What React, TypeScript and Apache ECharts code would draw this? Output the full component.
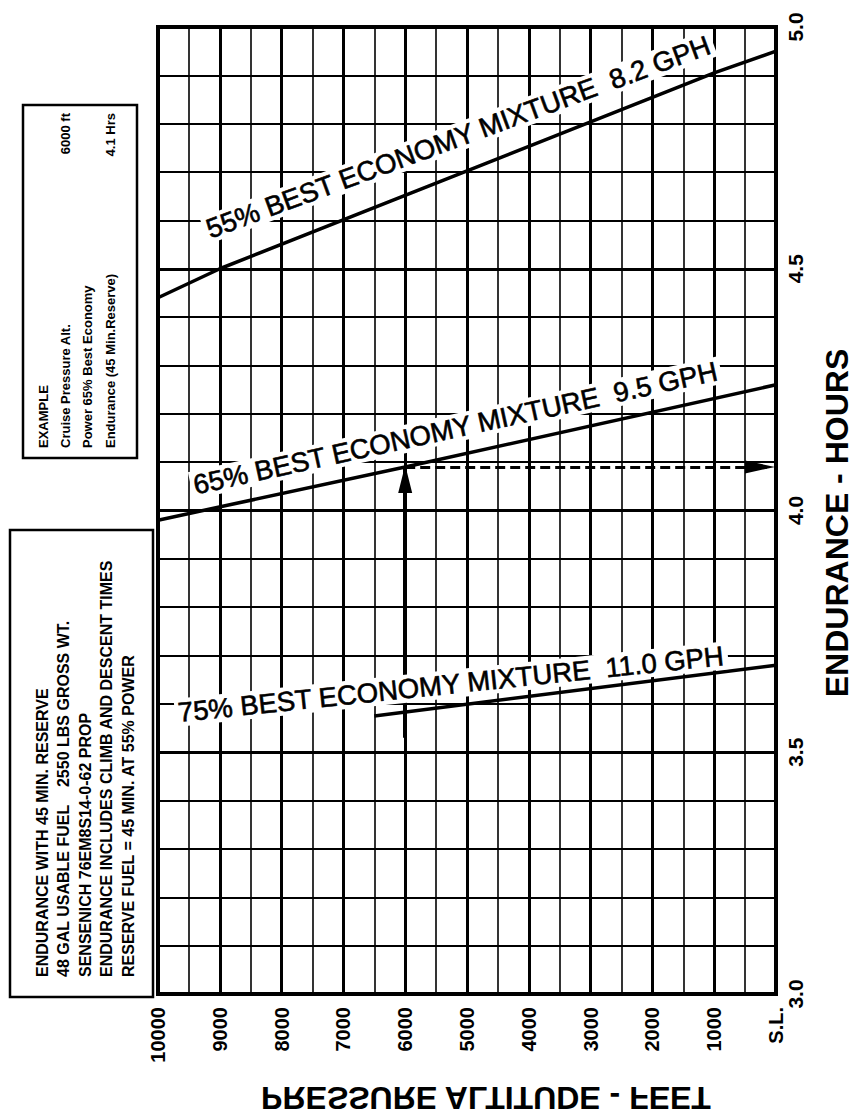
import React, { useEffect, useRef } from "react";
import * as echarts from "echarts";

// ---- data ----
const altitudeMin = 0;
const altitudeMax = 10000;
const enduranceMin = 3.0;
const enduranceMax = 5.0;

const alt55 = [10000, 9000, 1000, 0];
const hrs55 = [4.44, 4.5, 4.905, 4.95];
const alt65 = [10000, 6000, 0];
const hrs65 = [3.98, 4.09, 4.26];
const alt75 = [6500, 0];
const hrs75 = [3.575, 3.68];

const curveLabels = [
  "55% BEST ECONOMY MIXTURE\u00A0\u00A08.2 GPH",
  "65% BEST ECONOMY MIXTURE\u00A0\u00A09.5 GPH",
  "75% BEST ECONOMY MIXTURE\u00A0\u00A011.0 GPH",
];
// baseline start / end of each curve label, in data units [altitude, hours]
const curveLabelStart = [
  [9196, 4.559],
  [9434, 4.031],
  [9709, 3.561],
];
const curveLabelEnd = [
  [1105, 4.942],
  [960, 4.268],
  [906, 3.679],
];

const exampleAltitude = 6000;
const exampleFromHours = 3.53;
const exampleHours = 4.09;

const notesLines = [
  "ENDURANCE WITH 45 MIN. RESERVE",
  "48 GAL USABLE FUEL\u00A0\u00A0\u00A0\u00A02550 LBS GROSS WT.",
  "SENSENICH 76EM8S14-0-62 PROP",
  "ENDURANCE INCLUDES CLIMB AND DESCENT TIMES",
  "RESERVE FUEL = 45 MIN. AT 55% POWER",
];
const exampleLines = [
  "EXAMPLE",
  "Cruise Pressure Alt.",
  "Power 65% Best Economy",
  "Endurance (45 Min.Reserve)",
];
const exampleValues = ["", "6000 ft", "", "4.1 Hrs"];

const xTitle = "PRESSURE ALTITUDE - FEET";
const yTitle = "ENDURANCE - HOURS";
const seaLevelLabel = "S.L.";

const FONT = "'Liberation Sans', Arial, Helvetica, sans-serif";

export default function App() {
  const ref = useRef<HTMLDivElement>(null);

  useEffect(() => {
    if (!ref.current) return;
    const chart = echarts.init(ref.current, undefined, { renderer: "svg" });

    const pairs = (a: number[], h: number[]) => a.map((v, i) => [v, h[i]]);
    const curveStyle = { color: "#000", width: 3.5 };

    const option: any = {
      animation: false,
      backgroundColor: "#fff",
      grid: {
        left: 158,
        right: 78,
        top: 27,
        bottom: 125,
        show: true,
        borderColor: "#000",
        borderWidth: 4,
        backgroundColor: "transparent",
      },
      xAxis: {
        type: "value",
        min: altitudeMin,
        max: altitudeMax,
        interval: 1000,
        inverse: true,
        position: "bottom",
        axisLine: { show: false },
        axisTick: { show: false },
        axisLabel: {
          show: true,
          interval: 0,
          rotate: 90,
          margin: 13,
          color: "#000",
          fontFamily: FONT,
          fontWeight: "bold",
          fontSize: 20,
          showMinLabel: true,
          showMaxLabel: true,
          formatter: (v: number) => (v === 0 ? seaLevelLabel : String(v)),
        },
        splitLine: { show: true, lineStyle: { color: "#000", width: 3 } },
        minorTick: { show: false, splitNumber: 2 },
        minorSplitLine: { show: true, lineStyle: { color: "#000", width: 1.6 } },
      },
      yAxis: {
        type: "value",
        min: enduranceMin,
        max: enduranceMax,
        interval: 0.5,
        position: "right",
        axisLine: { show: false },
        axisTick: { show: false },
        axisLabel: {
          show: true,
          rotate: 90,
          margin: 9,
          color: "#000",
          fontFamily: FONT,
          fontWeight: "bold",
          fontSize: 21,
          showMinLabel: true,
          showMaxLabel: true,
          formatter: (v: number) => v.toFixed(1),
        },
        splitLine: { show: true, lineStyle: { color: "#000", width: 3 } },
        minorTick: { show: false, splitNumber: 5 },
        minorSplitLine: { show: true, lineStyle: { color: "#000", width: 1.8 } },
      },
      series: [
        {
          type: "line",
          data: pairs(alt55, hrs55),
          symbol: "none",
          lineStyle: curveStyle,
          z: 5,
        },
        {
          type: "line",
          data: pairs(alt65, hrs65),
          symbol: "none",
          lineStyle: curveStyle,
          z: 5,
        },
        {
          type: "line",
          data: pairs(alt75, hrs75),
          symbol: "none",
          lineStyle: curveStyle,
          z: 5,
        },
        {
          type: "line",
          data: [],
          z: 12,
          markLine: {
            silent: true,
            animation: false,
            symbol: ["none", "none"],
            label: { show: false },
            data: [
              [
                {
                  coord: [exampleAltitude, exampleFromHours],
                  lineStyle: { color: "#000", width: 4, type: "solid" },
                },
                {
                  coord: [exampleAltitude, exampleHours],
                  lineStyle: { color: "#000", width: 4, type: "solid" },
                },
              ],
            ],
          },
        },
        {
          type: "line",
          data: [],
          z: 12,
          markLine: {
            silent: true,
            animation: false,
            symbol: ["none", "none"],
            label: { show: false },
            lineStyle: { color: "#000", width: 3, type: [10, 5] },
            data: [
              [
                { coord: [exampleAltitude, exampleHours] },
                { coord: [altitudeMin + 150, exampleHours] },
              ],
            ],
          },
        },
      ],
    };

    chart.setOption(option);

    const px = (p: number[]) => chart.convertToPixel({ gridIndex: 0 }, p) as number[];
    const elements: any[] = [];

    // arrowheads of the worked example
    const upTip = px([exampleAltitude, exampleHours]);
    elements.push({
      type: "polygon",
      z: 13,
      shape: {
        points: [
          [upTip[0], upTip[1] - 2],
          [upTip[0] - 7, upTip[1] + 26],
          [upTip[0] + 7, upTip[1] + 26],
        ],
      },
      style: { fill: "#000" },
    });
    const rightTip = px([altitudeMin, exampleHours]);
    elements.push({
      type: "polygon",
      z: 13,
      shape: {
        points: [
          [rightTip[0] - 1, rightTip[1]],
          [rightTip[0] - 31, rightTip[1] - 6.5],
          [rightTip[0] - 31, rightTip[1] + 6.5],
        ],
      },
      style: { fill: "#000" },
    });

    // curve labels
    const labelSize = 27.5;
    curveLabels.forEach((text, i) => {
      const p1 = px(curveLabelStart[i]);
      const p2 = px(curveLabelEnd[i]);
      const ang = Math.atan2(p1[1] - p2[1], p2[0] - p1[0]);
      const half = (labelSize * 0.716) / 2;
      elements.push({
        type: "text",
        x: p1[0] - Math.sin(ang) * half,
        y: p1[1] - Math.cos(ang) * half,
        rotation: ang,
        z: 10,
        style: {
          text,
          x: 0,
          y: 0,
          align: "left",
          verticalAlign: "middle",
          fill: "#000",
          stroke: "#000",
          lineWidth: 0.6,
          fontFamily: FONT,
          fontSize: labelSize,
          backgroundColor: "#fff",
          padding: [0, 3, 0, 3],
          lineHeight: 28,
        },
      });
    });

    // boxes
    elements.push({
      type: "rect",
      shape: { x: 10, y: 530, width: 143, height: 467 },
      style: { fill: "#fff", stroke: "#000", lineWidth: 2.5 },
      z: 1,
    });
    elements.push({
      type: "rect",
      shape: { x: 23, y: 105, width: 114, height: 353 },
      style: { fill: "#fff", stroke: "#000", lineWidth: 2.5 },
      z: 1,
    });

    const noteCols = [42, 63.5, 85, 106.5, 128];
    notesLines.forEach((text, i) => {
      elements.push({
        type: "text",
        x: noteCols[i],
        y: 977,
        rotation: Math.PI / 2,
        z: 2,
        style: {
          text,
          align: "left",
          verticalAlign: "middle",
          fill: "#000",
          fontFamily: FONT,
          fontWeight: "bold",
          fontSize: 16,
        },
      });
    });

    const exCols = [43, 65, 87.5, 110];
    exampleLines.forEach((text, i) => {
      elements.push({
        type: "text",
        x: exCols[i],
        y: 448,
        rotation: Math.PI / 2,
        z: 2,
        style: {
          text,
          align: "left",
          verticalAlign: "middle",
          fill: "#000",
          fontFamily: FONT,
          fontWeight: "bold",
          fontSize: 13,
        },
      });
      if (exampleValues[i]) {
        elements.push({
          type: "text",
          x: exCols[i],
          y: 113,
          rotation: Math.PI / 2,
          z: 2,
          style: {
            text: exampleValues[i],
            align: "right",
            verticalAlign: "middle",
            fill: "#000",
            fontFamily: FONT,
            fontWeight: "bold",
            fontSize: 13,
          },
        });
      }
    });

    // axis titles
    elements.push({
      type: "text",
      x: 837,
      y: 523,
      rotation: Math.PI / 2,
      z: 2,
      style: {
        text: yTitle,
        align: "center",
        verticalAlign: "middle",
        fill: "#000",
        fontFamily: FONT,
        fontWeight: "bold",
        fontSize: 32,
      },
    });
    elements.push({
      type: "text",
      x: 486,
      y: 1098,
      scaleY: -1,
      z: 2,
      style: {
        text: xTitle,
        align: "center",
        verticalAlign: "middle",
        lineHeight: 26,
        fill: "#000",
        fontFamily: FONT,
        fontWeight: "bold",
        fontSize: 32,
      },
    });

    chart.setOption({ graphic: { elements } });

    return () => chart.dispose();
  }, []);

  return (
    <div
      ref={ref}
      style={{ position: "absolute", left: 0, top: 0, width: 854, height: 1119, background: "#fff" }}
    />
  );
}
